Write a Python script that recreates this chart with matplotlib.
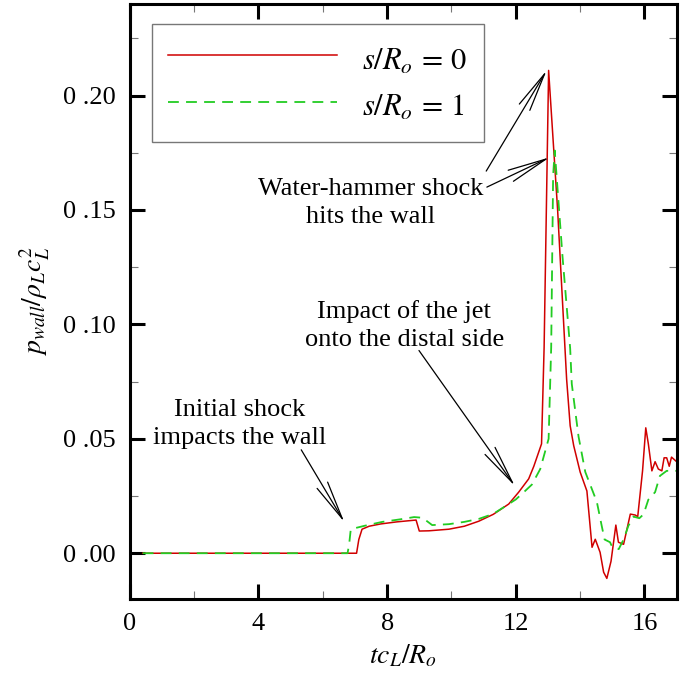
import matplotlib
matplotlib.use("Agg")
import matplotlib.pyplot as plt
from matplotlib.ticker import MultipleLocator, FuncFormatter

plt.rcParams["font.family"] = ["Liberation Serif", "DejaVu Serif"]
plt.rcParams["mathtext.fontset"] = "stix"

# s/Ro = 0 (red, solid)
t_s0 = [0.4, 7.05, 7.12, 7.22, 7.44, 7.8, 8.3, 8.9, 9.0, 9.3, 9.92, 10.4, 10.85, 11.3,
        11.78, 12.09, 12.4, 12.56, 12.8, 12.88, 13.02, 13.3, 13.58, 13.69, 13.8, 14.0,
        14.21, 14.37, 14.47, 14.62, 14.73, 14.83, 14.96, 15.11, 15.19, 15.35, 15.56,
        15.71, 15.79, 15.94, 16.04, 16.12, 16.23, 16.33, 16.43, 16.54, 16.61, 16.69,
        16.77, 16.84, 17.0]
p_s0 = [0.0, 0.0, 0.006, 0.0105, 0.0118, 0.0128, 0.0137, 0.0145, 0.0097, 0.0098, 0.0105,
        0.0118, 0.014, 0.017, 0.0215, 0.0267, 0.0325, 0.038, 0.0478, 0.09, 0.211, 0.15,
        0.076, 0.0557, 0.047, 0.0355, 0.0272, 0.0026, 0.0061, 0.0004, -0.0083, -0.011,
        -0.0035, 0.0123, 0.0048, 0.0039, 0.0171, 0.0167, 0.016, 0.036, 0.0548, 0.0478,
        0.036, 0.040, 0.0368, 0.036, 0.0417, 0.0417, 0.038, 0.042, 0.040]

# s/Ro = 1 (green, dashed)
t_s1 = [0.4, 6.77, 6.82, 6.87, 7.3, 7.85, 8.4, 8.84, 9.1, 9.24, 9.4, 9.92, 10.4, 10.85,
        11.3, 11.68, 12.0, 12.25, 12.5, 12.76, 13.02, 13.1, 13.16, 13.21, 13.45, 13.69,
        13.74, 13.95, 14.16, 14.52, 14.67, 14.76, 14.93, 15.0, 15.2, 15.35, 15.5, 15.66,
        15.84, 15.97, 16.12, 16.33, 16.48, 16.69, 16.84, 17.0]
p_s1 = [0.0, 0.0, 0.004, 0.0105, 0.012, 0.0137, 0.0148, 0.0158, 0.0155, 0.014, 0.0123,
        0.0127, 0.0137, 0.015, 0.0172, 0.0206, 0.0235, 0.0267, 0.030, 0.0368, 0.050,
        0.09, 0.165, 0.176, 0.13, 0.0895, 0.074, 0.051, 0.0355, 0.0224, 0.012, 0.006,
        0.0048, 0.0026, 0.0018, 0.006, 0.012, 0.016, 0.0153, 0.017, 0.0234, 0.0267,
        0.0338, 0.036, 0.036, 0.036]

labels = [r"$s/R_o\,=\,0$", r"$s/R_o\,=\,1$"]

notes = [
    ("Water-hammer shock\nhits the wall", (7.5, 0.153)),
    ("Impact of the jet\nonto the distal side", (8.53, 0.0995)),
    ("Initial shock\nimpacts the wall", (3.41, 0.0565)),
]
# (start, tip) of each arrow
arrows = [
    ((11.08, 0.167), (12.96, 0.211)),
    ((11.1, 0.160), (13.05, 0.173)),
    ((8.99, 0.0886), (11.97, 0.0294)),
    ((5.33, 0.0452), (6.67, 0.0136)),
]

fig = plt.figure(figsize=(6.94, 6.75), dpi=100)
ax = fig.add_axes([0.187, 0.1126, 0.788, 0.8814])

ax.plot(t_s0, p_s0, color="#d00000", lw=1.1, label=labels[0])
ax.plot(t_s1, p_s1, color="#22cc22", lw=1.3, ls=(0, (6, 4)), label=labels[1])

for txt, (x, y) in notes:
    ax.text(x, y, txt, ha="center", va="center", fontsize=19, linespacing=1.34)

for start, tip in arrows:
    ax.annotate("", xy=tip, xytext=start,
                arrowprops=dict(arrowstyle="->,head_length=1.4,head_width=0.22",
                                color="black", lw=0.9, mutation_scale=20,
                                shrinkA=0, shrinkB=0))

ax.set_xlim(0, 17)
ax.set_ylim(-0.02, 0.24)
ax.xaxis.set_major_locator(MultipleLocator(4))
ax.xaxis.set_minor_locator(MultipleLocator(2))
ax.yaxis.set_major_locator(MultipleLocator(0.05))
ax.yaxis.set_minor_locator(MultipleLocator(0.025))
ax.yaxis.set_major_formatter(FuncFormatter(lambda v, pos: ("%.2f" % v).replace(".", " .")))

ax.tick_params(which="both", direction="in", top=True, right=True, labelsize=19)
ax.tick_params(which="major", length=11, width=2.2, pad=10)
ax.tick_params(which="minor", length=6, width=0.8, color="#777777")
for s in ax.spines.values():
    s.set_linewidth(2.2)

ax.set_xlabel(r"$tc_L/R_o$", fontsize=20, labelpad=6)
ax.set_ylabel(r"$p_{wall}/\rho_L c_L^2$", fontsize=20, labelpad=8)

leg = ax.legend(loc="upper left", bbox_to_anchor=(0.04, 0.967), borderaxespad=0,
                fontsize=22, handlelength=5.5, handleheight=1.55, handletextpad=0.85,
                labelspacing=0.27, borderpad=0.55, fancybox=False, framealpha=1)
leg.get_frame().set_edgecolor("#777777")
leg.get_frame().set_linewidth(1.0)

fig.savefig("out.png", dpi=100)
